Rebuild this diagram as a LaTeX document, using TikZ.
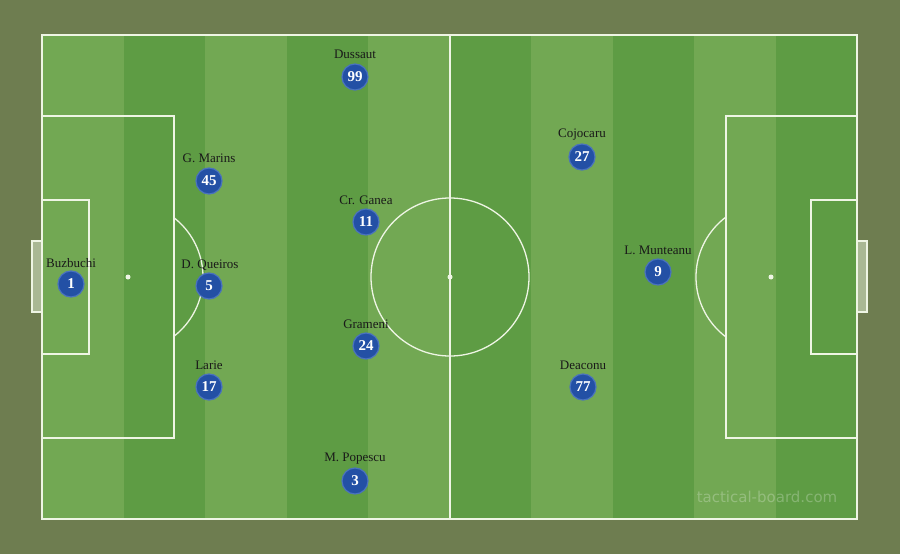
\documentclass[tikz,border=0pt]{standalone}
\usepackage{fontspec}
\setmainfont{Liberation Serif}
\newfontfamily\wmfont{DejaVu Sans}
\definecolor{bgc}{HTML}{6E7D50}
\definecolor{lightg}{HTML}{72A853}
\definecolor{darkg}{HTML}{5E9C44}
\definecolor{linec}{HTML}{EEF5E4}
\definecolor{pfill}{HTML}{2350A5}
\definecolor{pring}{HTML}{4A72BE}
\definecolor{goalc}{HTML}{A9B894}
\begin{document}
\begin{tikzpicture}[x=1pt,y=-1pt,
  pline/.style={draw=linec,line width=1.3pt},
  player/.style={circle,fill=pfill,draw=pring,line width=1.2pt,minimum size=26pt,inner sep=0pt,text=white,font=\bfseries\fontsize{15}{15}\selectfont},
  pname/.style={font=\fontsize{13}{13}\selectfont,text=black!90,inner sep=0pt}]
\useasboundingbox (0,0) rectangle (900,554);
\fill[bgc] (0,0) rectangle (900,554);
% stripes
\foreach \i in {0,...,9}{
  \pgfmathsetmacro{\xa}{42+81.5*\i}
  \pgfmathsetmacro{\xb}{42+81.5*(\i+1)}
  \pgfmathparse{mod(\i,2)==0 ? 1 : 0}
  \ifnum\pgfmathresult=1
    \fill[lightg] (\xa,35) rectangle (\xb,519);
  \else
    \fill[darkg] (\xa,35) rectangle (\xb,519);
  \fi
}
% goals
\draw[pline,fill=goalc] (32,241) rectangle (42,312);
\draw[pline,fill=goalc] (857,241) rectangle (867,312);
% outline
\draw[pline] (42,35) rectangle (857,519);
\draw[pline] (450,35) -- (450,519);
\draw[pline] (450,277) circle (79);
\fill[linec] (450,277) circle (2.5);
% left
\draw[pline] (42,116) rectangle (174,438);
\draw[pline] (42,200) rectangle (89,354);
\fill[linec] (128,277) circle (2.5);
\begin{scope}
\clip (174,0) rectangle (300,554);
\draw[pline] (128,277) circle (75);
\end{scope}
% right
\draw[pline] (726,116) rectangle (857,438);
\draw[pline] (811,200) rectangle (857,354);
\fill[linec] (771,277) circle (2.5);
\begin{scope}
\clip (600,0) rectangle (726,554);
\draw[pline] (771,277) circle (75);
\end{scope}
% watermark
\node[font=\wmfont\fontsize{15}{15}\selectfont,text=white,opacity=0.25] (wm) at (767,497) {tactical-board.com};
% players
\node[player] (p1) at (71,284) {1};
\node[pname] (n1) at (71,263) {Buzbuchi};
\node[player] (p5) at (209,286) {5};
\node[pname] (n5) at (210,265) {D. Queiros};
\node[player] (p45) at (209,181) {45};
\node[pname] (n45) at (209,158) {G. Marins};
\node[player] (p17) at (209,387) {17};
\node[pname] (n17) at (209,365) {Larie};
\node[player] (p99) at (355,77) {99};
\node[pname] (n99) at (355,54) {Dussaut};
\node[player] (p11) at (366,222) {11};
\node[pname] (n11) at (366,200) {Cr. Ganea};
\node[player] (p24) at (366,346) {24};
\node[pname] (n24) at (366,324) {Grameni};
\node[player] (p3) at (355,481) {3};
\node[pname] (n3) at (355,459) {M. Popescu};
\node[player] (p27) at (582,157) {27};
\node[pname] (n27) at (582,135) {Cojocaru};
\node[player] (p9) at (658,272) {9};
\node[pname] (n9) at (658,250) {L. Munteanu};
\node[player] (p77) at (583,387) {77};
\node[pname] (n77) at (583,365) {Deaconu};
\end{tikzpicture}
\end{document}
